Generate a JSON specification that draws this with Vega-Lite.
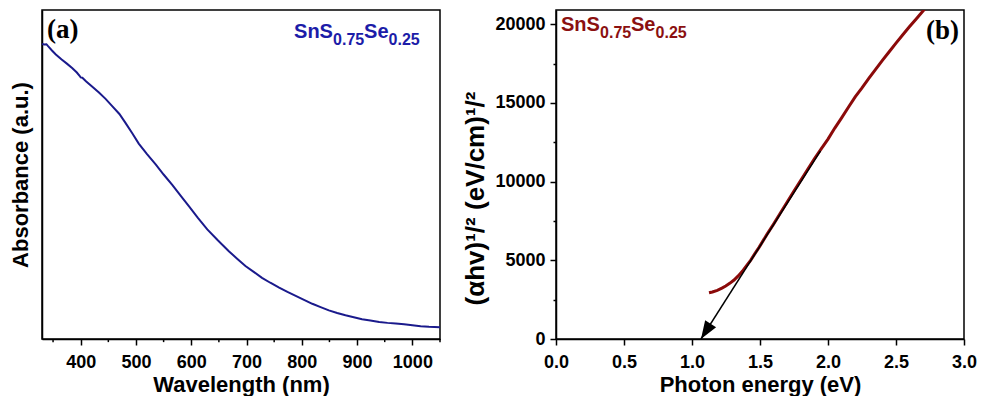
{
  "$schema": "https://vega.github.io/schema/vega-lite/v6.json",
  "padding": {"left": 8, "top": 9, "right": 5, "bottom": 0},
  "spacing": 20,
  "background": "white",
  "config": {
    "font": "Liberation Sans",
    "view": {"stroke": "black", "strokeWidth": 1.5},
    "axis": {
      "domainColor": "black", "domainWidth": 1.5,
      "tickColor": "black", "tickWidth": 1.5,
      "labelFont": "Liberation Sans", "labelFontWeight": "bold", "labelFontSize": 18, "labelColor": "black",
      "titleFont": "Liberation Sans", "titleFontWeight": "bold", "titleFontSize": 22, "titleColor": "black",
      "grid": false, "labelOverlap": false, "labelFlush": false
    }
  },
  "datasets": {
    "abs": [
      {"wavelength": 330, "absorbance": 0.897}, {"wavelength": 334, "absorbance": 0.895}, {"wavelength": 338, "absorbance": 0.896},
      {"wavelength": 341, "absorbance": 0.890}, {"wavelength": 348, "absorbance": 0.877}, {"wavelength": 355, "absorbance": 0.865},
      {"wavelength": 365, "absorbance": 0.850}, {"wavelength": 375, "absorbance": 0.837}, {"wavelength": 385, "absorbance": 0.823},
      {"wavelength": 393, "absorbance": 0.810}, {"wavelength": 398, "absorbance": 0.800}, {"wavelength": 400, "absorbance": 0.795},
      {"wavelength": 403, "absorbance": 0.794}, {"wavelength": 410, "absorbance": 0.783}, {"wavelength": 420, "absorbance": 0.768},
      {"wavelength": 433, "absorbance": 0.749}, {"wavelength": 445, "absorbance": 0.730}, {"wavelength": 457, "absorbance": 0.708},
      {"wavelength": 470, "absorbance": 0.684}, {"wavelength": 481, "absorbance": 0.657}, {"wavelength": 493, "absorbance": 0.626},
      {"wavelength": 505, "absorbance": 0.594}, {"wavelength": 520, "absorbance": 0.562}, {"wavelength": 536, "absorbance": 0.530},
      {"wavelength": 550, "absorbance": 0.500}, {"wavelength": 566, "absorbance": 0.468}, {"wavelength": 580, "absorbance": 0.437},
      {"wavelength": 596, "absorbance": 0.403}, {"wavelength": 612, "absorbance": 0.368}, {"wavelength": 629, "absorbance": 0.333},
      {"wavelength": 648, "absorbance": 0.300}, {"wavelength": 668, "absorbance": 0.267}, {"wavelength": 683, "absorbance": 0.244},
      {"wavelength": 698, "absorbance": 0.222}, {"wavelength": 713, "absorbance": 0.204}, {"wavelength": 728, "absorbance": 0.186},
      {"wavelength": 743, "absorbance": 0.171}, {"wavelength": 759, "absorbance": 0.156}, {"wavelength": 774, "absorbance": 0.143},
      {"wavelength": 789, "absorbance": 0.131}, {"wavelength": 804, "absorbance": 0.119}, {"wavelength": 819, "absorbance": 0.107},
      {"wavelength": 834, "absorbance": 0.097}, {"wavelength": 849, "absorbance": 0.087}, {"wavelength": 864, "absorbance": 0.079},
      {"wavelength": 879, "absorbance": 0.072}, {"wavelength": 894, "absorbance": 0.066}, {"wavelength": 909, "absorbance": 0.060},
      {"wavelength": 924, "absorbance": 0.056}, {"wavelength": 940, "absorbance": 0.052}, {"wavelength": 955, "absorbance": 0.049},
      {"wavelength": 970, "absorbance": 0.047}, {"wavelength": 985, "absorbance": 0.045}, {"wavelength": 1000, "absorbance": 0.042},
      {"wavelength": 1015, "absorbance": 0.039}, {"wavelength": 1030, "absorbance": 0.037}, {"wavelength": 1050, "absorbance": 0.036}
    ],
    "minorTicks": [
      {"wavelength": 350}, {"wavelength": 450}, {"wavelength": 550}, {"wavelength": 650},
      {"wavelength": 750}, {"wavelength": 850}, {"wavelength": 950}, {"wavelength": 1050}
    ],
    "tauc": [
      {"energy": 1.125, "value": 2941}, {"energy": 1.15, "value": 2990}, {"energy": 1.186, "value": 3093}, {"energy": 1.22, "value": 3230},
      {"energy": 1.248, "value": 3367}, {"energy": 1.28, "value": 3550}, {"energy": 1.309, "value": 3748}, {"energy": 1.34, "value": 4010},
      {"energy": 1.37, "value": 4301}, {"energy": 1.40, "value": 4640}, {"energy": 1.431, "value": 5000}, {"energy": 1.46, "value": 5390},
      {"energy": 1.493, "value": 5820}, {"energy": 1.55, "value": 6630}, {"energy": 1.6, "value": 7300}, {"energy": 1.65, "value": 8000},
      {"energy": 1.7, "value": 8700}, {"energy": 1.75, "value": 9400}, {"energy": 1.8, "value": 10080}, {"energy": 1.85, "value": 10770},
      {"energy": 1.9, "value": 11450}, {"energy": 1.95, "value": 12080}, {"energy": 2.0, "value": 12700}, {"energy": 2.05, "value": 13400},
      {"energy": 2.1, "value": 14050}, {"energy": 2.15, "value": 14720}, {"energy": 2.2, "value": 15380}, {"energy": 2.25, "value": 15950},
      {"energy": 2.3, "value": 16550}, {"energy": 2.35, "value": 17130}, {"energy": 2.4, "value": 17700}, {"energy": 2.45, "value": 18250},
      {"energy": 2.5, "value": 18800}, {"energy": 2.55, "value": 19330}, {"energy": 2.6, "value": 19850}, {"energy": 2.65, "value": 20350},
      {"energy": 2.7, "value": 20850}, {"energy": 2.75, "value": 21350}
    ],
    "fit": [
      {"energy": 1.066, "value": 0}, {"energy": 1.945, "value": 11950}
    ]
  },
  "hconcat": [
    {
      "width": 398,
      "height": 329,
      "layer": [
        {
          "data": {"name": "abs"},
          "mark": {"type": "line", "color": "#1a1a8c", "strokeWidth": 2, "clip": true},
          "encoding": {
            "x": {
              "field": "wavelength", "type": "quantitative",
              "scale": {"domain": [330, 1050], "nice": false, "zero": false},
              "axis": {
                "title": "Wavelength (nm)",
                "format": "d",
                "values": [400, 500, 600, 700, 800, 900, 1000],
                "tickSize": 6,
                "labelOverlap": false,
                "labelFlush": false,
                "labelPadding": 8,
                "titlePadding": 3
              }
            },
            "y": {
              "field": "absorbance", "type": "quantitative",
              "scale": {"domain": [0, 1], "nice": false, "zero": false},
              "axis": {"title": "Absorbance (a.u.)", "labels": false, "ticks": false, "titlePadding": 10}
            }
          }
        },
        {
          "data": {"name": "minorTicks"},
          "mark": {"type": "rule", "color": "black", "strokeWidth": 1.5, "clip": false},
          "encoding": {
            "x": {"field": "wavelength", "type": "quantitative"},
            "y": {"datum": 0, "type": "quantitative"},
            "y2": {"datum": -0.0095}
          }
        },
        {
          "data": {"values": [{}]},
          "mark": {"type": "text", "text": "(a)", "font": "Liberation Serif", "fontWeight": "bold", "fontSize": 27, "align": "left", "baseline": "alphabetic", "dx": 5, "color": "black"},
          "encoding": {"x": {"datum": 330, "type": "quantitative"}, "y": {"datum": 0.9155, "type": "quantitative"}}
        },
        {
          "data": {"values": [{}]},
          "mark": {"type": "text", "text": "SnS", "fontWeight": "bold", "fontSize": 20, "align": "left", "baseline": "alphabetic", "color": "#1c1ca8"},
          "encoding": {"x": {"datum": 786, "type": "quantitative"}, "y": {"datum": 0.916, "type": "quantitative"}}
        },
        {
          "data": {"values": [{}]},
          "mark": {"type": "text", "text": "0.75", "fontWeight": "bold", "fontSize": 16, "align": "left", "baseline": "alphabetic", "dx": 39, "dy": 7, "color": "#1c1ca8"},
          "encoding": {"x": {"datum": 786, "type": "quantitative"}, "y": {"datum": 0.916, "type": "quantitative"}}
        },
        {
          "data": {"values": [{}]},
          "mark": {"type": "text", "text": "Se", "fontWeight": "bold", "fontSize": 20, "align": "left", "baseline": "alphabetic", "dx": 70, "color": "#1c1ca8"},
          "encoding": {"x": {"datum": 786, "type": "quantitative"}, "y": {"datum": 0.916, "type": "quantitative"}}
        },
        {
          "data": {"values": [{}]},
          "mark": {"type": "text", "text": "0.25", "fontWeight": "bold", "fontSize": 16, "align": "left", "baseline": "alphabetic", "dx": 94.5, "dy": 7, "color": "#1c1ca8"},
          "encoding": {"x": {"datum": 786, "type": "quantitative"}, "y": {"datum": 0.916, "type": "quantitative"}}
        }
      ]
    },
    {
      "width": 408,
      "height": 329,
      "layer": [
        {
          "data": {"name": "tauc"},
          "mark": {"type": "line", "color": "#8b0a0a", "strokeWidth": 3, "clip": true},
          "encoding": {
            "x": {
              "field": "energy", "type": "quantitative",
              "scale": {"domain": [0, 3], "nice": false, "zero": false},
              "axis": {
                "title": "Photon energy (eV)",
                "values": [0, 0.25, 0.5, 0.75, 1, 1.25, 1.5, 1.75, 2, 2.25, 2.5, 2.75, 3],
                "labelExpr": "abs(datum.value * 2 - round(datum.value * 2)) < 0.001 ? format(datum.value, '.1f') : ''",
                "tickSize": {"condition": {"test": "abs(datum.value * 2 - round(datum.value * 2)) < 0.001", "value": 6}, "value": 3},
                "labelOverlap": false,
                "labelFlush": false,
                "labelPadding": 8,
                "titlePadding": 3
              }
            },
            "y": {
              "field": "value", "type": "quantitative",
              "scale": {"domain": [0, 20900], "nice": false, "zero": false},
              "axis": {
                "title": "(αhv)¹/² (eV/cm)¹/²",
                "titleFontSize": 26,
                "titleY": 188,
                "values": [0, 2500, 5000, 7500, 10000, 12500, 15000, 17500, 20000],
                "labelExpr": "datum.value % 5000 == 0 ? format(datum.value, 'd') : ''",
                "tickSize": {"condition": {"test": "datum.value % 5000 == 0", "value": 6}, "value": 3},
                "labelOverlap": false,
                "labelPadding": 5,
                "titlePadding": 6
              }
            }
          }
        },
        {
          "data": {"name": "fit"},
          "mark": {"type": "line", "color": "black", "strokeWidth": 1.5, "clip": true},
          "encoding": {
            "x": {"field": "energy", "type": "quantitative"},
            "y": {"field": "value", "type": "quantitative"}
          }
        },
        {
          "data": {"values": [{}]},
          "mark": {"type": "point", "shape": "M0,0L-0.36,1L0.36,1Z", "size": 1300, "angle": 212.4, "filled": true, "color": "black", "opacity": 1},
          "encoding": {"x": {"datum": 1.066, "type": "quantitative"}, "y": {"datum": 0, "type": "quantitative"}}
        },
        {
          "data": {"values": [{}]},
          "mark": {"type": "text", "text": "(b)", "font": "Liberation Serif", "fontWeight": "bold", "fontSize": 27, "align": "right", "baseline": "alphabetic", "dx": -5, "color": "black"},
          "encoding": {"x": {"datum": 3, "type": "quantitative"}, "y": {"datum": 19030, "type": "quantitative"}}
        },
        {
          "data": {"values": [{}]},
          "mark": {"type": "text", "text": "SnS", "fontWeight": "bold", "fontSize": 20, "align": "left", "baseline": "alphabetic", "color": "#8b1010"},
          "encoding": {"x": {"datum": 0.037, "type": "quantitative"}, "y": {"datum": 19560, "type": "quantitative"}}
        },
        {
          "data": {"values": [{}]},
          "mark": {"type": "text", "text": "0.75", "fontWeight": "bold", "fontSize": 16, "align": "left", "baseline": "alphabetic", "dx": 39, "dy": 7, "color": "#8b1010"},
          "encoding": {"x": {"datum": 0.037, "type": "quantitative"}, "y": {"datum": 19560, "type": "quantitative"}}
        },
        {
          "data": {"values": [{}]},
          "mark": {"type": "text", "text": "Se", "fontWeight": "bold", "fontSize": 20, "align": "left", "baseline": "alphabetic", "dx": 70, "color": "#8b1010"},
          "encoding": {"x": {"datum": 0.037, "type": "quantitative"}, "y": {"datum": 19560, "type": "quantitative"}}
        },
        {
          "data": {"values": [{}]},
          "mark": {"type": "text", "text": "0.25", "fontWeight": "bold", "fontSize": 16, "align": "left", "baseline": "alphabetic", "dx": 94.5, "dy": 7, "color": "#8b1010"},
          "encoding": {"x": {"datum": 0.037, "type": "quantitative"}, "y": {"datum": 19560, "type": "quantitative"}}
        }
      ]
    }
  ]
}
